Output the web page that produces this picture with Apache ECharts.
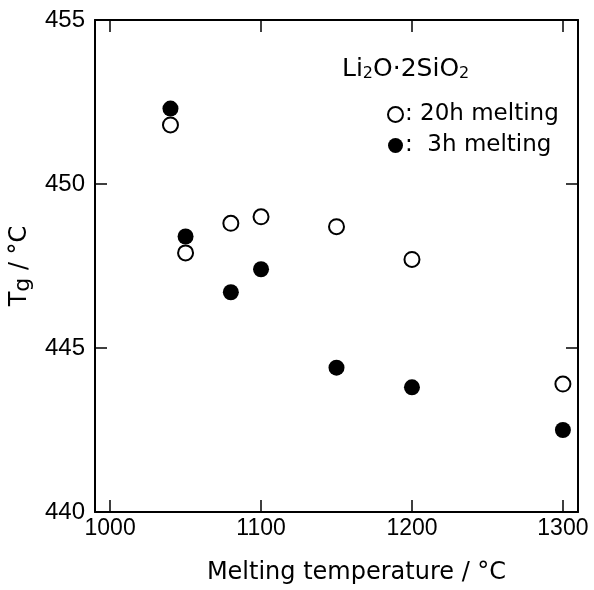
<!DOCTYPE html>
<html>
<head>
<meta charset="utf-8">
<script src="https://cdn.jsdelivr.net/npm/echarts@6/dist/echarts.min.js"></script>
<style>html,body{margin:0;padding:0;background:#fff}#c{width:594px;height:590px}</style>
</head>
<body>
<div id="c"></div>
<script>
var meltTemps = [1040, 1050, 1080, 1100, 1150, 1200, 1300];
var tg20h = [451.8, 447.9, 448.8, 449.0, 448.7, 447.7, 443.9];
var tg3h = [452.3, 448.4, 446.7, 447.4, 444.4, 443.8, 442.5];
var xTicks = [1000, 1100, 1200, 1300];
var yTicks = [440, 445, 450, 455];
var seriesNames = ['20h', '3h'];
var legendLabels = {'20h': ': 20h melting', '3h': ':  3h melting'};

var FONT = 'Liberation Sans, Arial, Helvetica, sans-serif';
var WIDE = 'DejaVu Sans, Liberation Sans, sans-serif';
var chart = echarts.init(document.getElementById('c'), null, {renderer: 'canvas'});

function pairs(xs, ys) { return xs.map(function (x, i) { return [x, ys[i]]; }); }

var axisLine = {show: true, lineStyle: {color: '#000', width: 2}};
var tick = {show: true, inside: true, length: 12, lineStyle: {color: '#000', width: 1.5}};

chart.setOption({
  animation: false,
  backgroundColor: '#fff',
  title: {
    text: 'Li{s|2}O·2SiO{s|2}',
    left: 337, top: 52,
    textStyle: {
      fontFamily: WIDE, fontSize: 25, fontWeight: 'normal', color: '#000',
      rich: {s: {fontFamily: WIDE, fontSize: 16, color: '#000', verticalAlign: 'bottom', padding: [9, 0, 0, 0]}}
    }
  },
  legend: {
    orient: 'vertical', left: 382, top: 98,
    itemWidth: 15, itemHeight: 15, itemGap: 8,
    data: seriesNames,
    formatter: function (n) { return legendLabels[n]; },
    textStyle: {fontFamily: WIDE, fontSize: 23, color: '#000', lineHeight: 20, padding: [0, 0, 0, -3]}
  },
  grid: {left: 95, top: 20, right: 16, bottom: 78, containLabel: false},
  xAxis: [{
    type: 'value', min: 990, max: 1310,
    name: 'Melting temperature / °C', nameLocation: 'middle', nameGap: 49,
    nameTextStyle: {fontFamily: WIDE, fontSize: 24, color: '#000', padding: [0, 0, 0, 40]},
    axisLine: axisLine, axisTick: Object.assign({customValues: xTicks}, tick),
    axisLabel: {customValues: xTicks, fontFamily: FONT, fontSize: 23, color: '#000', margin: 5,
      formatter: function (v) { return String(v); }},
    splitLine: {show: false}
  }, {
    type: 'value', position: 'top', min: 990, max: 1310,
    axisLine: axisLine, axisTick: Object.assign({customValues: xTicks}, tick),
    axisLabel: {show: false}, splitLine: {show: false}
  }],
  yAxis: [{
    type: 'value', min: 440, max: 455, interval: 5,
    name: 'T{g|g} / °C', nameLocation: 'middle', nameGap: 60, nameRotate: 90,
    nameTextStyle: {fontFamily: WIDE, fontSize: 24, color: '#000',
      rich: {g: {fontFamily: WIDE, fontSize: 22, color: '#000', padding: [6, 0, 0, 0]}}},
    axisLine: axisLine, axisTick: Object.assign({customValues: yTicks}, tick),
    axisLabel: {customValues: yTicks, fontFamily: FONT, fontSize: 24, color: '#000', margin: 10,
      formatter: function (v) { return String(v); }},
    splitLine: {show: false}
  }, {
    type: 'value', position: 'right', min: 440, max: 455, interval: 5,
    axisLine: axisLine, axisTick: Object.assign({customValues: yTicks}, tick),
    axisLabel: {show: false}, splitLine: {show: false}
  }],
  series: [{
    name: '20h', type: 'scatter', symbol: 'circle', symbolSize: 15,
    itemStyle: {color: '#fff', borderColor: '#000', borderWidth: 2, opacity: 1},
    data: pairs(meltTemps, tg20h)
  }, {
    name: '3h', type: 'scatter', symbol: 'circle', symbolSize: 16,
    itemStyle: {color: '#000', borderColor: '#000', borderWidth: 0, opacity: 1},
    data: pairs(meltTemps, tg3h)
  }]
});
</script>
</body>
</html>
